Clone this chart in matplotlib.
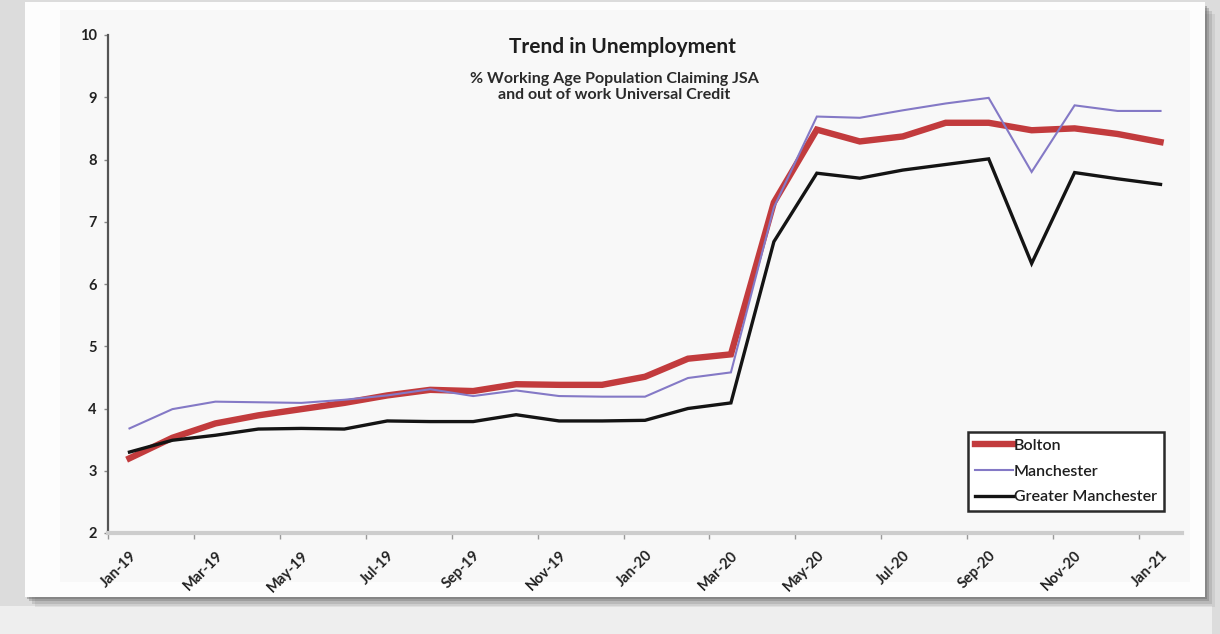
import matplotlib.pyplot as plt
from matplotlib.patches import Rectangle

# Claimant rate, % of working age population (JSA + out-of-work Universal Credit)
months = ['Jan-19', 'Feb-19', 'Mar-19', 'Apr-19', 'May-19', 'Jun-19', 'Jul-19',
          'Aug-19', 'Sep-19', 'Oct-19', 'Nov-19', 'Dec-19', 'Jan-20', 'Feb-20',
          'Mar-20', 'Apr-20', 'May-20', 'Jun-20', 'Jul-20', 'Aug-20', 'Sep-20',
          'Oct-20', 'Nov-20', 'Dec-20', 'Jan-21']

bolton = [3.20, 3.53, 3.76, 3.89, 3.99, 4.09, 4.21, 4.30, 4.28, 4.39, 4.38, 4.38, 4.51,
          4.80, 4.87, 7.31, 8.48, 8.29, 8.37, 8.59, 8.59, 8.47, 8.50, 8.41, 8.28]
manchester = [3.68, 3.99, 4.11, 4.10, 4.09, 4.14, 4.21, 4.31, 4.20, 4.29, 4.20, 4.19, 4.19,
              4.49, 4.58, 7.23, 8.69, 8.67, 8.79, 8.90, 8.99, 7.80, 8.87, 8.78, 8.78]
greater_manchester = [3.30, 3.49, 3.57, 3.67, 3.68, 3.67, 3.80, 3.79, 3.79, 3.90, 3.80, 3.80,
                      3.81, 4.00, 4.09, 6.68, 7.78, 7.70, 7.83, 7.92, 8.01, 6.33, 7.79, 7.69,
                      7.60]

series_names = ['Bolton', 'Manchester', 'Greater Manchester']
series_colors = ['#c23b3d', '#8479c6', '#141414']
series_widths = [4.6, 1.5, 2.4]

W, H = 1220, 634
plt.rcParams['font.family'] = ['Lato', 'DejaVu Sans']


def box(x0, y0, x1, y1):
    """Pixel box (top-left origin) -> figure-fraction rectangle args."""
    return (x0 / W, 1 - y1 / H), (x1 - x0) / W, (y1 - y0) / H


def backdrop(x0, y0, x1, y1, color, alpha=1.0):
    xy, w, h = box(x0, y0, x1, y1)
    fig.add_artist(Rectangle(xy, w, h, transform=fig.transFigure, facecolor=color,
                             edgecolor='none', alpha=alpha, zorder=-10))


fig = plt.figure(figsize=(W / 100, H / 100), dpi=100, facecolor='#dcdcdc')

# sheet of paper with a soft shadow, chart area on top of it
backdrop(0, 606, 1212, H, '#eeeeee')
for off, a in [(10, 0.10), (7, 0.18), (4, 0.28), (2, 0.35)]:
    backdrop(25 + off, 4 + off, 1205 + off, 597 + off, '#5a5a5a', a)
backdrop(25, 2, 1205, 597, '#fdfdfd')
backdrop(60, 10, 1190, 582, '#f8f8f8')

xy, w, h = box(108, 35, 1182, 533)
ax = fig.add_axes([xy[0], xy[1], w, h], zorder=2)
ax.set_facecolor('none')

x = list(range(len(months)))
for vals, name, col, lw in zip([bolton, manchester, greater_manchester],
                               series_names, series_colors, series_widths):
    ax.plot(x, vals, color=col, lw=lw, label=name, solid_joinstyle='miter', zorder=3)

ax.set_xlim(-0.5, len(months) - 0.5)
ax.set_ylim(2, 10)
ax.set_yticks(range(2, 11))
ax.tick_params(axis='y', direction='out', length=3, width=1, color='#888888',
               labelsize=10.5, pad=5, labelcolor='#222222')
for lbl in ax.get_yticklabels():
    lbl.set_fontweight('bold')

# ticks sit between months, labels under every second month
ax.set_xticks([i - 0.5 for i in range(0, len(months), 2)])
ax.set_xticklabels([])
ax.set_xticks(x[::2], minor=True)
ax.set_xticklabels(months[::2], minor=True, rotation=45, ha='right', va='top',
                   rotation_mode='anchor', fontsize=10.5, fontweight='bold',
                   color='#222222')
ax.tick_params(axis='x', which='major', direction='out', length=4, width=1,
               color='#999999')
ax.tick_params(axis='x', which='minor', length=0, pad=11)

for side in ['top', 'right']:
    ax.spines[side].set_visible(False)
ax.spines['left'].set_color('#555555')
ax.spines['left'].set_linewidth(1.6)
ax.spines['bottom'].set_color('#cdcdcd')
ax.spines['bottom'].set_linewidth(3)

fig.text(622 / W, 1 - 47 / H, 'Trend in Unemployment', ha='center', va='center',
         fontsize=15, fontweight='bold', color='#1e1e1e')
fig.text(614 / W, 1 - 87 / H,
         '% Working Age Population Claiming JSA\nand out of work Universal Credit',
         ha='center', va='center', fontsize=11.5, fontweight='bold', color='#2a2a2a',
         linespacing=1.1)

leg = ax.legend(loc='upper left', bbox_to_anchor=(968 / W, 1 - 432 / H),
                bbox_transform=fig.transFigure, borderaxespad=0, fancybox=False,
                fontsize=11.5, handlelength=2.4, handletextpad=0.05, labelspacing=0.72,
                borderpad=0.42, framealpha=1)
leg.get_frame().set_edgecolor('#2a2a2a')
leg.get_frame().set_linewidth(1.8)
for t in leg.get_texts():
    t.set_color('#1e1e1e')
    t.set_fontweight('semibold')

fig.savefig('out.png', dpi=100, facecolor=fig.get_facecolor())
